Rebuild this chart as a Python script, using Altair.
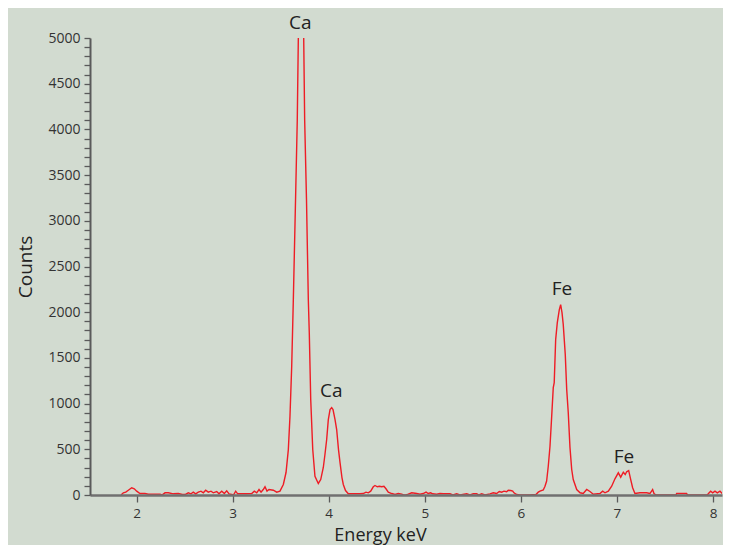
import altair as alt
import pandas as pd

# Spectrum (energy in keV, counts)
energy = [1.839, 1.863, 1.888, 1.915, 1.950, 1.977, 2.002, 2.036, 2.088, 2.123, 2.245, 2.265,
          2.297, 2.331, 2.383, 2.435, 2.477, 2.505, 2.539, 2.567, 2.591, 2.616, 2.643, 2.671,
          2.695, 2.720, 2.747, 2.775, 2.799, 2.835, 2.858, 2.887, 2.914, 2.939, 2.963, 2.991,
          3.009, 3.032, 3.053, 3.095, 3.147, 3.199, 3.226, 3.251, 3.275, 3.296, 3.319, 3.337,
          3.358, 3.379, 3.424, 3.459, 3.493, 3.528, 3.556, 3.580, 3.597, 3.615, 3.632, 3.655,
          3.673, 3.684, 3.694, 3.712, 3.729, 3.740, 3.750, 3.769, 3.788, 3.798, 3.813, 3.834,
          3.857, 3.892, 3.917, 3.944, 3.961, 3.979, 3.996, 4.014, 4.031, 4.045, 4.066, 4.083,
          4.102, 4.118, 4.138, 4.152, 4.175, 4.204, 4.291, 4.326, 4.360, 4.388, 4.412, 4.437,
          4.464, 4.482, 4.506, 4.527, 4.552, 4.575, 4.596, 4.620, 4.656, 4.690, 4.724, 4.760,
          4.778, 4.804, 4.828, 4.864, 4.916, 4.950, 4.984, 5.013, 5.036, 5.061, 5.082, 5.124,
          5.158, 5.193, 5.262, 5.293, 5.332, 5.366, 5.436, 5.470, 5.505, 5.540, 5.564, 5.592,
          5.626, 5.678, 5.713, 5.748, 5.775, 5.800, 5.824, 5.852, 5.869, 5.894, 5.915, 5.928,
          5.956, 5.991, 6.095, 6.157, 6.181, 6.199, 6.233, 6.251, 6.268, 6.285, 6.303, 6.320,
          6.337, 6.347, 6.362, 6.379, 6.400, 6.414, 6.428, 6.441, 6.462, 6.477, 6.493, 6.511,
          6.529, 6.545, 6.581, 6.616, 6.649, 6.685, 6.719, 6.754, 6.823, 6.851, 6.875, 6.910,
          6.945, 6.979, 7.014, 7.039, 7.066, 7.086, 7.101, 7.122, 7.143, 7.163, 7.187, 7.239,
          7.309, 7.343, 7.371, 7.385, 7.406, 7.614, 7.621, 7.725, 7.734, 7.937, 7.950, 7.975,
          7.996, 8.020, 8.044, 8.072, 8.100, 8.124, 8.145]
counts = [0, 24, 31, 52, 79, 68, 42, 16, 16, 9, 9, 0,
          24, 24, 13, 16, 5, 5, 24, 13, 31, 13, 31, 42,
          24, 52, 31, 42, 24, 38, 13, 42, 16, 46, 13, 5,
          0, 42, 13, 13, 13, 16, 42, 24, 60, 31, 60, 90,
          42, 60, 52, 31, 42, 115, 246, 497, 858, 1405, 2137, 3230,
          4104, 5000, 5400, 5600, 5400, 5000, 4104, 3230, 2137, 1776, 1044, 497,
          205, 126, 169, 301, 443, 607, 825, 935, 956, 935, 825, 716,
          497, 355, 191, 115, 49, 13, 13, 13, 16, 31, 24, 42,
          90, 104, 90, 96, 90, 96, 68, 31, 16, 5, 16, 9,
          0, 0, 9, 24, 16, 9, 16, 31, 16, 24, 13, 9,
          16, 13, 13, 0, 13, 0, 13, 0, 13, 13, 0, 13,
          0, 13, 24, 16, 38, 31, 42, 35, 52, 49, 42, 24,
          5, 0, 0, 5, 31, 42, 55, 96, 153, 315, 533, 847,
          1175, 1230, 1700, 1885, 2028, 2082, 1995, 1864, 1536, 1153, 902, 519,
          279, 169, 60, 24, 16, 60, 38, 9, 16, 42, 24, 42,
          96, 177, 243, 195, 249, 224, 254, 268, 169, 79, 16, 24,
          24, 16, 60, 16, 0, 0, 16, 16, 0, 0, 13, 42,
          24, 42, 24, 42, 13, 24, 5]

# Peak annotations
label_text = ["Ca", "Ca", "Fe", "Fe"]
label_x = [3.705, 4.027, 6.428, 7.073]
label_y = [5165, 1142, 2257, 421]

x_ticks = [2, 2.5, 3, 3.5, 4, 4.5, 5, 5.5, 6, 6.5, 7, 7.5, 8]
y_ticks = list(range(0, 5001, 100))

spec = pd.DataFrame({"energy": energy, "counts": counts})
labels = pd.DataFrame({"text": label_text, "x": label_x, "y": label_y})

FONT = "Open Sans"
AXIS_COLOR = "#5a5a5a"

x_scale = alt.Scale(domain=[1.516, 8.093], nice=False, zero=False)
y_scale = alt.Scale(domain=[0, 5000], nice=False)

line = alt.Chart(spec).mark_line(color="#ee1c25", strokeWidth=1.4, clip=True).encode(
    x=alt.X("energy:Q", scale=x_scale,
            axis=alt.Axis(title="Energy keV", values=x_ticks, tickCount=30,
                          labelExpr="datum.value % 1 === 0 ? datum.label : ''",
                          labelOverlap=False,
                          format="d", grid=False, tickSize=7, tickWidth=1.3,
                          tickColor=AXIS_COLOR, domainColor="#707070", domainWidth=2.5,
                          labelFont=FONT, labelFontSize=13.5, labelColor="#333333",
                          labelPadding=4, titleFont=FONT, titleFontSize=18,
                          titleFontWeight="normal", titleColor="#222222",
                          titleX=290, titleY=45, titleBaseline="alphabetic",
                          titleAnchor="middle", zindex=1)),
    y=alt.Y("counts:Q", scale=y_scale,
            axis=alt.Axis(title="Counts", values=y_ticks, tickCount=60,
                          labelExpr="datum.value % 500 === 0 ? datum.label : ''",
                          labelOverlap=False,
                          format="d", grid=False, tickSize=6, tickWidth=1.3,
                          tickColor=AXIS_COLOR, domainColor=AXIS_COLOR, domainWidth=2,
                          labelFont=FONT, labelFontSize=14, labelColor="#333333",
                          labelPadding=4, titleFont=FONT, titleFontSize=19,
                          titleFontWeight="normal", titleColor="#222222",
                          titlePadding=12, zindex=1)),
)

text = alt.Chart(labels).mark_text(font=FONT, fontSize=19, color="#222222",
                                   baseline="middle", align="center").encode(
    x=alt.X("x:Q", scale=x_scale),
    y=alt.Y("y:Q", scale=y_scale),
    text="text:N",
)

chart = alt.layer(line, text).properties(
    width=632, height=457,
    autosize=alt.AutoSizeParams(type="none"),
    padding={"left": 82, "top": 30, "right": 1, "bottom": 50},
    background="#d2dbd0",
).configure_view(stroke=None)

chart.save("out.html", embed_options={"renderer": "svg", "actions": False})
